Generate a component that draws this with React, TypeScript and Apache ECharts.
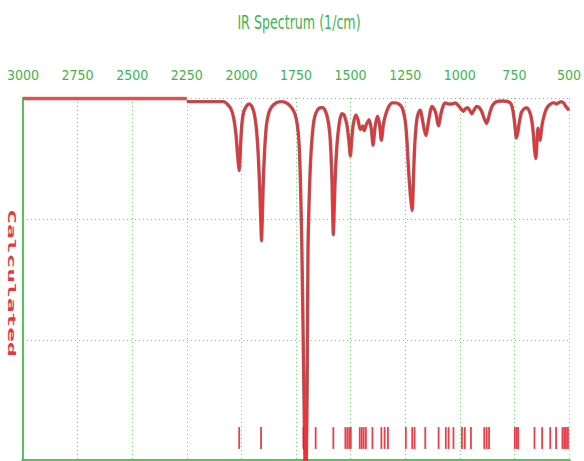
import React, { useEffect, useRef } from "react";
import * as echarts from "echarts";

const TITLE = "IR Spectrum (1/cm)";
const SIDE_LABEL = "Calculated";
const X_MIN = 500;
const X_MAX = 3000;
const X_STEP = 250;

// flat baseline plotted before the computed range
const BASELINE_WN = [3000, 2250];
const BASELINE_T = [2.995, 2.995];

const WAVENUMBERS = [
  2250, 2120, 2080, 2065, 2048, 2036, 2025, 2017, 2010, 2004, 1998, 1990, 1978, 1964, 1952, 1940,
  1930, 1922, 1915, 1911, 1908, 1903, 1898, 1892, 1885, 1874, 1860, 1840, 1817, 1795, 1775, 1760,
  1749, 1740, 1734, 1729, 1723, 1716, 1710, 1706, 1703, 1699, 1695, 1688, 1682, 1674, 1665, 1652,
  1638, 1627, 1615, 1605, 1596, 1590, 1585, 1579, 1574, 1569, 1562, 1551, 1540, 1530, 1517, 1508,
  1501, 1495, 1488, 1476, 1466, 1456, 1445, 1438, 1428, 1415, 1405, 1397, 1388, 1377, 1368, 1359,
  1350, 1340, 1325, 1310, 1294, 1278, 1264, 1255, 1249, 1242, 1236, 1229, 1222, 1218, 1214, 1210,
  1206, 1200, 1195, 1186, 1180, 1173, 1163, 1155, 1148, 1142, 1134, 1127, 1118, 1109, 1102, 1097,
  1091, 1085, 1075, 1067, 1050, 1036, 1020, 1008, 999, 990, 983, 975, 964, 955, 945, 935,
  923, 910, 900, 888, 877, 869, 862, 850, 832, 805, 779, 765, 756, 748, 741, 735,
  729, 718, 706, 695, 684, 673, 664, 657, 652, 647, 642, 637, 632, 626, 620, 608,
  597, 585, 574, 566, 559, 548, 536, 525, 514, 500,
];

const TRANSMITTANCE = [
  2.97, 2.97, 2.97, 2.95, 2.91, 2.84, 2.7, 2.52, 2.4, 2.6, 2.78, 2.88, 2.93, 2.95, 2.93, 2.86,
  2.72, 2.5, 2.2, 1.98, 1.82, 2.1, 2.4, 2.62, 2.78, 2.88, 2.93, 2.96, 2.97, 2.96, 2.93, 2.89,
  2.83, 2.72, 2.55, 2.26, 1.75, 0.87, 0.1, -0.15, -0.05, 0.6, 1.75, 2.26, 2.52, 2.72, 2.84, 2.9,
  2.92, 2.92, 2.89, 2.83, 2.72, 2.55, 2.3, 1.87, 2.15, 2.4, 2.62, 2.8, 2.87, 2.86, 2.78, 2.65,
  2.52, 2.65, 2.78, 2.86, 2.82, 2.74, 2.77, 2.73, 2.78, 2.82, 2.74, 2.61, 2.76, 2.85, 2.79, 2.65,
  2.78, 2.86, 2.93, 2.96, 2.96, 2.95, 2.92, 2.86, 2.8, 2.65, 2.45, 2.26, 2.12, 2.07, 2.22, 2.45,
  2.62, 2.77, 2.84, 2.89, 2.9, 2.84, 2.74, 2.69, 2.75, 2.82, 2.9, 2.93, 2.91, 2.87, 2.8, 2.77,
  2.82, 2.88, 2.94, 2.96, 2.95, 2.95, 2.96, 2.94, 2.92, 2.9, 2.89, 2.91, 2.92, 2.9, 2.87, 2.9,
  2.93, 2.92, 2.89, 2.83, 2.79, 2.83, 2.88, 2.94, 2.97, 2.975, 2.97, 2.95, 2.89, 2.78, 2.67, 2.71,
  2.78, 2.88, 2.91, 2.92, 2.9, 2.84, 2.72, 2.56, 2.5, 2.62, 2.75, 2.7, 2.65, 2.74, 2.81, 2.89,
  2.93, 2.95, 2.96, 2.96, 2.95, 2.96, 2.97, 2.96, 2.93, 2.9,
];

// calculated peak positions (stick spectrum)
const PEAK_POSITIONS = [
  2010, 1910, 1716, 1660, 1579, 1524, 1515, 1506, 1499, 1458, 1449, 1440, 1430, 1400, 1359, 1344,
  1329, 1247, 1218, 1207, 1158, 1097, 1064, 1051, 1029, 990, 977, 949, 888, 877, 866, 748,
  740, 733, 658, 623, 586, 559, 530, 522, 514, 506, 499,
];
const STICK_BASE = 0.1;
const STICK_TOP = 0.28;

const GREEN_TEXT = "#3fb34d";
const GREEN_AXIS = "#52c55a";
const GREEN_GRID = "#7ccd80";
const RED = "#e8323a";
const NARROW = '"DejaVu Sans Condensed", "DejaVu Sans", sans-serif';

export default function App() {
  const ref = useRef<HTMLDivElement>(null);

  useEffect(() => {
    if (!ref.current) return;
    const chart = echarts.init(ref.current, undefined, { renderer: "svg" });
    const spectrum = WAVENUMBERS.map((w, i) => [w, TRANSMITTANCE[i]]);
    const baseline = BASELINE_WN.map((w, i) => [w, BASELINE_T[i]]);

    chart.setOption({
      animation: false,
      backgroundColor: "#ffffff",
      grid: { left: 23, right: 11, top: 98, bottom: -3 },
      xAxis: {
        type: "value",
        position: "top",
        inverse: true,
        min: X_MIN,
        max: X_MAX,
        interval: X_STEP,
        offset: 5,
        axisLine: { show: true, lineStyle: { color: GREEN_AXIS, width: 4 } },
        axisTick: { show: true, inside: true, length: 3, lineStyle: { color: "#3a9a40", width: 1 } },
        axisLabel: {
          color: GREEN_TEXT,
          fontFamily: NARROW,
          fontSize: 14,
          margin: 11,
          formatter: (v: number) => String(v),
        },
        splitLine: { show: true, lineStyle: { color: GREEN_GRID, type: [1, 3], width: 1 } },
      },
      yAxis: {
        type: "value",
        min: 0,
        max: 3,
        interval: 1,
        axisLine: { show: true, lineStyle: { color: GREEN_AXIS, width: 2 } },
        axisTick: { show: false },
        axisLabel: { show: false },
        splitLine: { show: true, lineStyle: { color: GREEN_GRID, type: [1, 3], width: 1 } },
      },
      graphic: [
        {
          type: "text",
          x: 299,
          y: 22,
          scaleX: 0.74,
          style: {
            text: TITLE,
            align: "center",
            verticalAlign: "middle",
            font: `19px ${NARROW}`,
            fill: GREEN_TEXT,
          },
        },
        {
          type: "text",
          x: 11,
          y: 283,
          rotation: -Math.PI / 2,
          scaleX: 2.45,
          style: {
            text: SIDE_LABEL,
            align: "center",
            verticalAlign: "middle",
            font: 'bold 10px "DejaVu Sans Mono", monospace',
            fill: "#e03a44",
          },
        },
      ],
      series: [
        {
          type: "custom",
          clip: true,
          data: PEAK_POSITIONS.map((w) => [w, STICK_TOP]),
          encode: { x: 0, y: 1 },
          renderItem: (params: any, api: any) => {
            const w = api.value(0);
            const p1 = api.coord([w, STICK_BASE]);
            const p2 = api.coord([w, STICK_TOP]);
            return {
              type: "line",
              shape: { x1: p1[0], y1: p1[1], x2: p2[0], y2: p2[1] },
              style: { stroke: "#e8404a", lineWidth: 1.8 },
            };
          },
        },
        {
          type: "line",
          data: baseline,
          showSymbol: false,
          lineStyle: { color: "#e4514c", width: 3.5 },
        },
        {
          type: "line",
          data: spectrum,
          showSymbol: false,
          smooth: 0.25,
          clip: true,
          lineStyle: { color: "#8a2a2a", width: 3.4, opacity: 0.75 },
        },
        {
          type: "line",
          data: spectrum,
          showSymbol: false,
          smooth: 0.25,
          clip: true,
          lineStyle: { color: RED, width: 1.8 },
        },
      ],
    });
    return () => chart.dispose();
  }, []);

  return (
    <div
      ref={ref}
      style={{ position: "fixed", left: 0, top: 0, width: 584, height: 461, background: "#fff" }}
    />
  );
}
